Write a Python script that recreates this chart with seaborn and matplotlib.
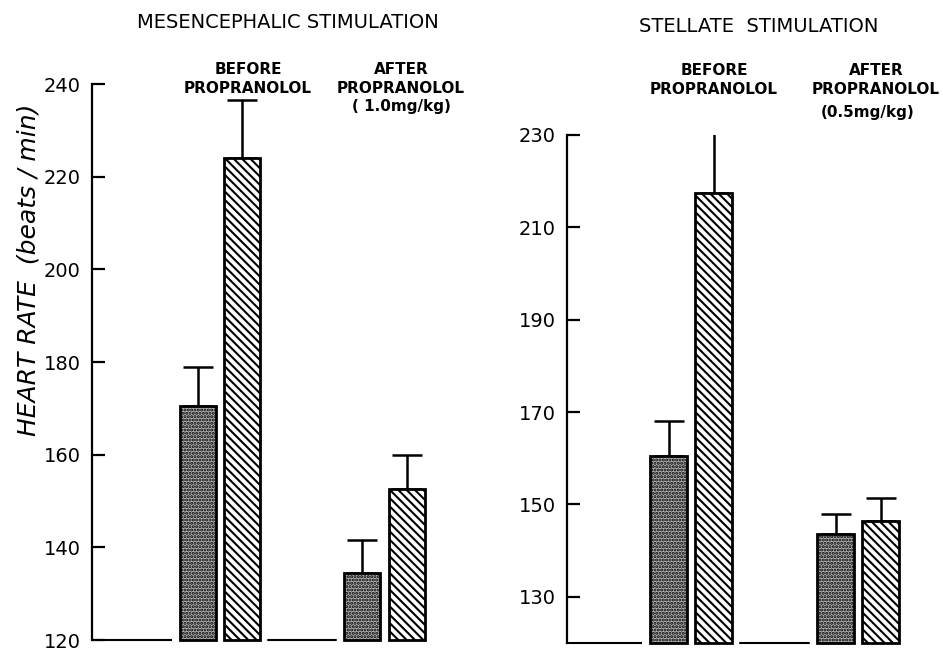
import numpy as np
import pandas as pd
import seaborn as sns
import matplotlib.pyplot as plt

# bar order: before/pre, before/stim, after/pre, after/stim
groups = ["BEFORE", "AFTER"]
conditions = ["Prestimulation", "Stimulation"]

mes_mean = [170.5, 224.0, 134.5, 152.5]
mes_sem = [8.5, 12.5, 7.0, 7.5]
stel_mean = [160.5, 217.5, 143.5, 146.5]
stel_sem = [7.5, 13.0, 4.5, 5.0]

mes_ticks = [120, 140, 160, 180, 200, 220, 240]
stel_ticks = [130, 150, 170, 190, 210, 230]

sns.set_style("white")
plt.rcParams['font.family'] = ['DejaVu Sans']
plt.rcParams['text.color'] = 'black'
plt.rcParams['axes.labelcolor'] = 'black'
plt.rcParams['ytick.color'] = 'black'
plt.rcParams['hatch.linewidth'] = 1.5

W, H = 943, 652
fig = plt.figure(figsize=(W / 100, H / 100), dpi=100)


def make_df(means):
    return pd.DataFrame({
        "group": [g for g in groups for c in conditions],
        "condition": [c for g in groups for c in conditions],
        "rate": means,
    })


def panel(rect, means, sems, ticks, ylim, xlim):
    ax = fig.add_axes(rect)
    df = make_df(means)
    sns.barplot(data=df, x="group", y="rate", hue="condition", order=groups,
                hue_order=conditions, width=0.54, gap=0.19, errorbar=None,
                palette=["white", "white"], edgecolor="black", linewidth=2.0,
                legend=False, ax=ax)
    bars = sorted(ax.patches, key=lambda p: p.get_x())
    base = ylim[0]
    for i, p in enumerate(bars):
        h = p.get_height()
        p.set_y(base)
        p.set_height(h - base)
        p.set_clip_on(False)
        if i % 2 == 0:
            p.set_facecolor("#b4b4b4")
            p.set_hatch(".....")
        else:
            p.set_facecolor("white")
            p.set_hatch("\\\\\\\\")
    xs = [p.get_x() + p.get_width() / 2 for p in bars]
    tops = [p.get_y() + p.get_height() for p in bars]
    ax.errorbar(xs, tops, yerr=[np.zeros(len(sems)), sems], fmt="none",
                ecolor="black", elinewidth=1.8, capsize=11, capthick=1.8,
                zorder=0.5)
    # broken baseline between bar pairs
    gap = 0.05
    ax.plot([xlim[0], bars[0].get_x() - gap], [base, base], color="black",
            lw=1.5, clip_on=False, solid_capstyle="butt")
    ax.plot([bars[1].get_x() + bars[1].get_width() + gap, bars[2].get_x() - gap],
            [base, base], color="black", lw=1.5, clip_on=False)
    ax.set_xlim(*xlim)
    ax.set_ylim(*ylim)
    ax.set_yticks(ticks)
    ax.set_xticks([])
    ax.set_xlabel("")
    ax.set_ylabel("")
    for s in ["top", "right", "bottom"]:
        ax.spines[s].set_visible(False)
    ax.spines["left"].set_linewidth(1.6)
    ax.spines["left"].set_color("black")
    ax.tick_params(axis="y", direction="in", length=9, width=1.6,
                   labelsize=14, pad=8, colors="black", left=True)
    return ax


panel([92 / W, 12 / H, 333 / W, 556 / H], mes_mean, mes_sem, mes_ticks,
      (120, 240), (-0.778, 1.246))
panel([567 / W, 9 / H, 331 / W, 508 / H], stel_mean, stel_sem, stel_ticks,
      (120, 230), (-0.743, 1.239))


def ftxt(x, y, s, **kw):
    fig.text(x / W, 1 - y / H, s, ha="center", va="center", **kw)


ftxt(288, 23, "MESENCEPHALIC STIMULATION", fontsize=14)
ftxt(759, 27, "STELLATE  STIMULATION", fontsize=14)

lab = dict(fontsize=11, fontweight="bold", linespacing=1.3)
ftxt(248, 79, "BEFORE\nPROPRANOLOL", **lab)
ftxt(401, 79, "AFTER\nPROPRANOLOL", **lab)
ftxt(401, 107, "( 1.0mg/kg)", **lab)
ftxt(714, 80, "BEFORE\nPROPRANOLOL", **lab)
ftxt(876, 80, "AFTER\nPROPRANOLOL", **lab)
ftxt(868, 113, "(0.5mg/kg)", **lab)

ftxt(29, 270, "HEART RATE  (beats / min)", fontsize=18, fontstyle="italic",
     rotation=90)

fig.savefig("out.png", dpi=100, facecolor="white")
